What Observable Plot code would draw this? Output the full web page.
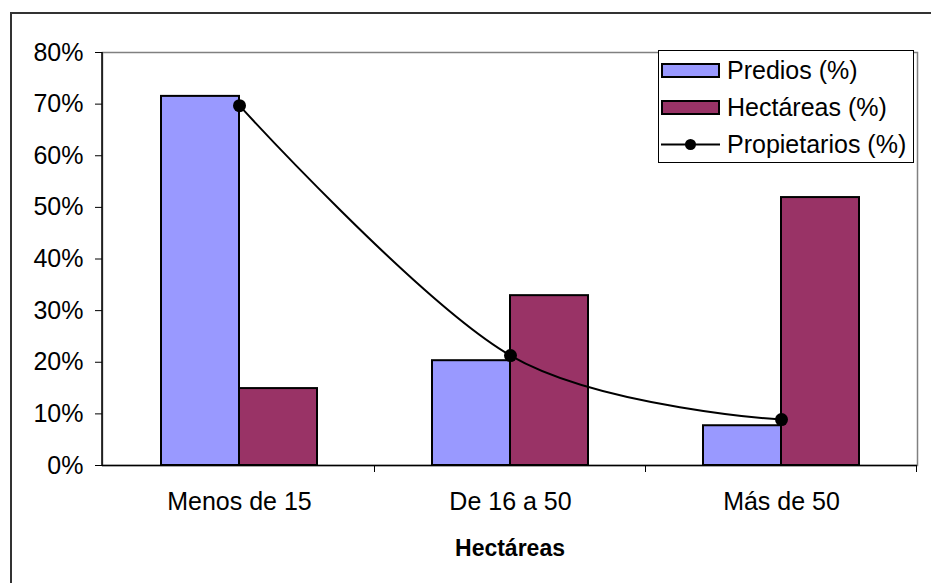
<!DOCTYPE html>
<html><head><meta charset="utf-8">
<script src="https://cdn.jsdelivr.net/npm/d3@7"></script>
<script src="https://cdn.jsdelivr.net/npm/@observablehq/plot@0.6"></script>
<style>
body{margin:0;background:#fff;font-family:"Liberation Sans",Arial,sans-serif;}
#wrap{position:relative;width:931px;height:583px;overflow:hidden;background:#fff;}
#border{position:absolute;left:10px;top:12px;width:1000px;height:1000px;border-left:2px solid #333;border-top:2px solid #333;}
#chart{position:absolute;left:0;top:0;}
#legend{position:absolute;left:658px;top:50px;width:254px;height:111px;border:1px solid #000;background:#fff;font-size:25px;color:#000;}
.row{position:absolute;left:2px;height:36px;display:flex;align-items:center;white-space:nowrap;}
.sw{width:55px;height:11px;border:2px solid #000;margin-right:7px;}
</style></head>
<body><div id="wrap"><div id="border"></div><div id="chart"></div><div id="legend"></div></div>
<script>
const categories = ["Menos de 15", "De 16 a 50", "Más de 50"];
const seriesNames = ["Predios (%)", "Hectáreas (%)", "Propietarios (%)"];
const predios = [0.715, 0.203, 0.077];
const hectareas = [0.149, 0.329, 0.519];
const propietarios = [0.697, 0.213, 0.089];
const yTicks = [0, 0.1, 0.2, 0.3, 0.4, 0.5, 0.6, 0.7, 0.8];
const colors = ["#9999FF", "#993366", "#000000"];
const axisTitle = "Hectáreas";

const rows = (vals) => categories.map((c, i) => ({category: c, value: vals[i]}));

function boundaryTicks(index, scales, values, dims) {
  const x = scales.x;
  const step = x.step();
  const bw = x.bandwidth();
  const y0 = scales.y(0);
  const g = d3.create("svg:g");
  g.append("line").attr("x1", dims.marginLeft).attr("x2", dims.marginLeft)
    .attr("y1", dims.marginTop).attr("y2", y0 + 0.5).attr("stroke", "#000").attr("stroke-width", 1.5);
  categories.forEach(c => {
    const xb = x(c) + bw / 2 + step / 2;
    g.append("line").attr("x1", xb).attr("x2", xb).attr("y1", y0).attr("y2", y0 + 7)
      .attr("stroke", "#000").attr("stroke-width", 1);
  });
  return g.node();
}

const chart = Plot.plot({
  width: 931, height: 583,
  marginLeft: 102, marginRight: 14, marginTop: 52, marginBottom: 118,
  style: {fontSize: "25px", fontFamily: "'Liberation Sans', Arial, sans-serif", color: "#000", background: "transparent", overflow: "visible"},
  x: {type: "band", domain: categories, paddingInner: 0.4258, paddingOuter: 0.2129, label: null},
  y: {domain: [0, 0.8], label: null},
  marks: [
    Plot.frame({stroke: "#808080", strokeWidth: 1.5}),
    Plot.barY(rows(predios), {x: "category", y: "value", fill: colors[0], stroke: "#000", strokeWidth: 2, insetRight: 78}),
    Plot.barY(rows(hectareas), {x: "category", y: "value", fill: colors[1], stroke: "#000", strokeWidth: 2, insetLeft: 78}),
    Plot.ruleY([0], {stroke: "#000", strokeWidth: 1.5}),
    boundaryTicks,
    Plot.line(rows(propietarios), {x: "category", y: "value", curve: "cardinal", stroke: colors[2], strokeWidth: 2}),
    Plot.dot(rows(propietarios), {x: "category", y: "value", r: 6.5, fill: colors[2]}),
    Plot.axisY({ticks: yTicks, tickFormat: d3.format(".0%"), tickSize: 7, tickPadding: 12, label: null}),
    Plot.axisX({tickSize: 0, tickPadding: 27, label: null}),
    Plot.text([axisTitle], {text: d => d, frameAnchor: "bottom", dy: 90, fontWeight: "bold", fontSize: 23})
  ]
});
document.getElementById("chart").appendChild(chart);

const legend = document.getElementById("legend");
seriesNames.forEach((name, i) => {
  const row = document.createElement("div");
  row.className = "row";
  row.style.top = (1 + i * 37) + "px";
  let sw;
  if (i < 2) {
    sw = document.createElement("div");
    sw.className = "sw";
    sw.style.background = colors[i];
  } else {
    sw = document.createElementNS("http://www.w3.org/2000/svg", "svg");
    sw.setAttribute("width", 59); sw.setAttribute("height", 15);
    sw.style.marginRight = "7px";
    sw.innerHTML = `<line x1="0" x2="59" y1="7.5" y2="7.5" stroke="${colors[2]}" stroke-width="2"/><circle cx="29.5" cy="7.5" r="5.5" fill="${colors[2]}"/>`;
  }
  row.appendChild(sw);
  const t = document.createElement("span");
  t.textContent = name;
  row.appendChild(t);
  legend.appendChild(row);
});
</script>
</body></html>
